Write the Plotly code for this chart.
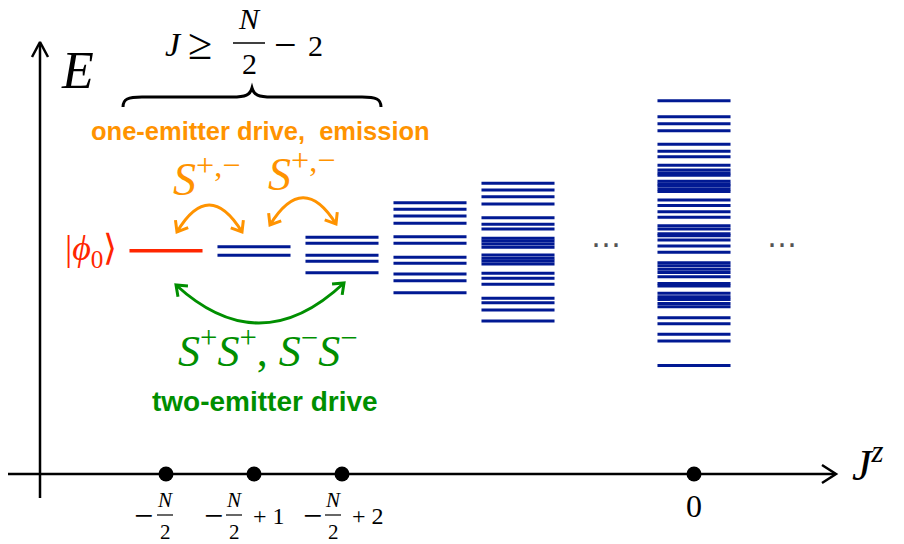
import numpy as np
import plotly.graph_objects as go

W, H = 904, 544

# ---------------- data ----------------
jz_index = [0, 1, 2, 3, 4, 6]          # position along J^z (5 and 7 are "...")
energies = [
    [0.0],
    [0.4, -0.46],
    [1.34, 0.74, -0.46, -1.06, -2.2],
    [4.8, 4.14, 3.47, 2.74, 1.4, 0.74, -0.66, -1.26, -2.33, -3.0, -4.2],
    [6.74, 6.07, 5.4, 4.67, 3.3, 2.64, 2.17, 1.24, 0.97, 0.67, 0.34, -0.43,
     -0.76, -1.03, -1.33, -2.26, -2.76, -3.36, -4.76, -5.2, -5.93, -7.03],
    [15.0, 13.4, 12.7, 12.0, 10.64, 9.94, 9.4, 8.54, 8.07, 7.77, 7.54, 6.94,
     6.67, 6.47, 6.17, 5.92, 5.07, 4.52, 3.89, 3.34, 2.49, 2.17, 1.69, 1.49,
     1.07, 0.47, -0.16, -1.2, -1.5, -1.86, -2.18, -2.6, -3.28, -3.53, -4.26,
     -4.6, -4.88, -5.28, -5.6, -6.71, -7.3, -8.35, -9.03, -11.48],
]
RED, BLUE, ORANGE, GREEN = "#FF2600", "#011993", "#FF9300", "#008F00"
stack_colors = [RED, BLUE, BLUE, BLUE, BLUE, BLUE]
tick_index = [0, 1, 2, 6]
ellipsis_index = [5, 7]

# ---------------- pixel <-> data mapping ----------------
PX0, PXU = 166.0, 88.0
PY0, PYU = 250.7, 10.0
def X(px): return (px - PX0) / PXU
def Y(py): return (PY0 - py) / PYU
E_AXIS = Y(474)

fig = go.Figure()

def line_px(pts, color="black", width=2.5):
    fig.add_trace(go.Scatter(x=[X(p[0]) for p in pts], y=[Y(p[1]) for p in pts],
                             mode="lines", line=dict(color=color, width=width),
                             hoverinfo="skip", showlegend=False))

# axes (as lines with open chevrons)
line_px([(40, 498), (40, 43)])
line_px([(32, 57), (40, 42), (48, 57)])
line_px([(8, 474), (834, 474)])
line_px([(822, 465), (836, 474), (822, 483)])

# energy levels
half = 0.415
for k, lv, col in zip(jz_index, energies, stack_colors):
    xs, ys = [], []
    for e in lv:
        xs += [k - half, k + half, None]
        ys += [e, e, None]
    fig.add_trace(go.Scatter(x=xs, y=ys, mode="lines",
                             line=dict(color=col, width=3.6 if col == RED else 3),
                             hoverinfo="skip", showlegend=False))

# tick dots
fig.add_trace(go.Scatter(x=tick_index, y=[E_AXIS] * len(tick_index), mode="markers",
                         marker=dict(size=15, color="black"),
                         hoverinfo="skip", showlegend=False))

shapes = []
def path_shape(cmds, color, width):
    s = ""
    for c, pts in cmds:
        s += c + " " + " ".join(f"{X(px):.5f},{Y(py):.5f}" for px, py in pts) + " "
    shapes.append(dict(type="path", path=s.strip(), line=dict(color=color, width=width),
                       xref="x", yref="y"))

def chevron(tip, d, color, width, L=12, ang=38):
    d = np.array(d, float); d /= np.linalg.norm(d)
    th = np.radians(ang)
    pts = []
    for s in (1, -1):
        R = np.array([[np.cos(s*th), -np.sin(s*th)], [np.sin(s*th), np.cos(s*th)]])
        pts.append(np.array(tip) - L * R @ d)
    line_px([tuple(pts[0]), tip, tuple(pts[1])], color=color, width=width)

def curved_arrow(p0, c, p2, color, width=3):
    path_shape([("M", [p0]), ("Q", [c, p2])], color, width)
    chevron(p0, (p0[0]-c[0], p0[1]-c[1]), color, width)
    chevron(p2, (p2[0]-c[0], p2[1]-c[1]), color, width)

curved_arrow((177, 232), (209, 178), (242, 232), ORANGE)
curved_arrow((270, 225), (303, 171), (336, 224), ORANGE)
curved_arrow((176, 285), (260, 362), (344, 283), GREEN)

# curly brace
path_shape([("M", [(123, 107)]), ("C", [(123, 99), (128, 97), (142, 97)]),
            ("L", [(232, 97)]), ("C", [(246, 97), (250, 95), (252, 88)]),
            ("C", [(254, 95), (258, 97), (272, 97)]), ("L", [(362, 97)]),
            ("C", [(376, 97), (381, 99), (381, 107)])], "black", 3)

# fraction bars
def hbar(x1, x2, y, w=1.2):
    shapes.append(dict(type="line", x0=X(x1), x1=X(x2), y0=Y(y), y1=Y(y),
                       line=dict(color="black", width=w), xref="x", yref="y"))

anns = []
SERIF = "Liberation Serif"
SANS = "Liberation Sans"
def ann(text, px, py, size, color="black", family=SERIF, xanchor="center"):
    anns.append(dict(text=text, x=X(px), y=Y(py), xref="x", yref="y", showarrow=False,
                     xanchor=xanchor, yanchor="middle",
                     font=dict(size=size, color=color, family=family)))

# axis labels
ann("<i>E</i>", 77, 70, 52)
ann("<i>J</i><sup><i>z</i></sup>", 868, 462, 44)

# top formula J >= N/2 - 2
ann("<i>J</i>", 173, 44, 34)
ann("≥", 200, 44, 44)
ann("<i>N</i>", 249, 18, 30)
hbar(233, 265, 43, 1.5)
ann("2", 249, 63, 30)
ann("−", 285, 44, 40)
ann("2", 315, 45, 30)

# orange texts
ann("<b>one-emitter drive,&#160; emission</b>", 260, 131, 25.5, ORANGE, SANS)
ann("<i>S</i><sup>+,−</sup>", 206, 176, 46, ORANGE)
ann("<i>S</i><sup>+,−</sup>", 301, 171, 46, ORANGE)

# green texts
ann("<i>S</i><sup>+</sup><i>S</i><sup>+</sup>, <i>S</i><sup>−</sup><i>S</i><sup>−</sup>",
    268, 348, 44, GREEN)
ann("<b>two-emitter drive</b>", 265, 401, 28, GREEN, SANS)

# red state label
ann("|<i>ϕ</i><sub>0</sub>⟩", 91, 250, 36, RED)

# ellipses
for k in ellipsis_index:
    ann("…", PX0 + PXU * k, 236, 30, "#555555", "DejaVu Sans")

# tick labels under the J^z axis
tick_parts = [("−", "N", "2", ""), ("−", "N", "2", "+ 1"), ("−", "N", "2", "+ 2"), ("", "", "", "0")]
tick_label_px = [155, 245, 344, 694]
for (minus, num, den, suf), cx in zip(tick_parts, tick_label_px):
    if num:
        if suf:
            mx, fx, sx = cx - 32, cx - 11, cx + 24
        else:
            mx, fx, sx = cx - 12, cx + 10, None
        ann(minus, mx, 515, 34)
        ann("<i>" + num + "</i>", fx, 500, 21)
        hbar(fx - 8, fx + 8, 515)
        ann(den, fx, 532, 21)
        if suf:
            ann(suf, sx, 516, 24)
    else:
        ann(suf, cx, 506, 32)

fig.update_layout(
    width=W, height=H, autosize=False,
    margin=dict(l=0, r=0, t=0, b=0),
    paper_bgcolor="white", plot_bgcolor="white",
    xaxis=dict(range=[X(0), X(W)], visible=False, fixedrange=True),
    yaxis=dict(range=[Y(H), Y(0)], visible=False, fixedrange=True),
    shapes=shapes, annotations=anns, showlegend=False,
)
fig.write_html("out.html")
